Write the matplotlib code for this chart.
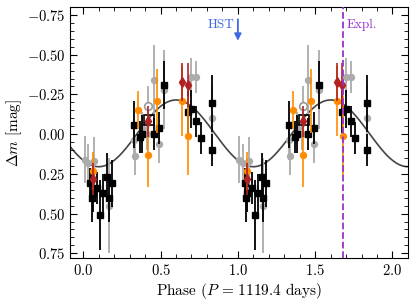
import numpy as np
import matplotlib
matplotlib.use("Agg")
import matplotlib.pyplot as plt
from matplotlib.ticker import MultipleLocator

plt.rcParams["font.family"] = "serif"
plt.rcParams["font.serif"] = ["cmr10"]
plt.rcParams["mathtext.fontset"] = "cm"
plt.rcParams["axes.formatter.use_mathtext"] = True
plt.rcParams["font.size"] = 10.5

period_days = 1119.4

# black squares: phase, delta m, error
sq_phase = [0.045, 0.06, 0.055, 0.09, 0.11, 0.13, 0.155, 0.165, 0.185,
            0.33, 0.37, 0.38, 0.455, 0.49, 0.525, 0.675, 0.70, 0.73, 0.76, 0.835, 0.835]
sq_dm = [0.31, 0.37, 0.40, 0.34, 0.51, 0.37, 0.27, 0.40, 0.31,
         -0.06, 0.02, 0.00, 0.00, -0.04, -0.31, -0.14, -0.16, -0.08, 0.025, -0.195, 0.10]
sq_err = [0.10, 0.12, 0.15, 0.10, 0.22, 0.12, 0.15, 0.15, 0.15,
          0.15, 0.10, 0.12, 0.10, 0.10, 0.15, 0.13, 0.12, 0.10, 0.10, 0.18, 0.10]

# grey circles
gr_phase = [0.01, 0.03, 0.07, 0.06, 0.165, 0.33, 0.335, 0.38, 0.415, 0.455, 0.49, 0.525, 0.70, 0.73, 0.835]
gr_dm = [0.16, 0.18, 0.17, 0.34, 0.45, 0.04, 0.14, -0.04, 0.0, -0.34, 0.06, -0.28, -0.36, -0.36, -0.10]
gr_err = [0.15, 0.12, 0.15, 0.15, 0.30, 0.12, 0.12, 0.10, 0.10, 0.22, 0.12, 0.25, 0.12, 0.10, 0.20]

# orange circles
or_phase = [0.06, 0.355, 0.42, 0.475, 0.64, 0.68]
or_dm = [0.23, -0.15, 0.13, -0.21, -0.21, 0.01]
or_err = [0.12, 0.12, 0.20, 0.20, 0.22, 0.25]

# red diamonds
rd_phase = [0.06, 0.42, 0.64, 0.675]
rd_dm = [0.28, -0.08, -0.33, -0.31]
rd_err = [0.10, 0.10, 0.12, 0.14]

# open symbols
open_circ_phase, open_circ_dm, open_circ_err = [0.42], [-0.18], [0.12]
open_sq_phase, open_sq_dm = [0.425], [-0.09]

# sinusoid model
fit_mean = -0.005
fit_amp = 0.21
fit_peak_phase = 0.60

hst_phase = 1.0
expl_phase = 1.683


def twice(vals, shift=False):
    vals = np.asarray(vals, dtype=float)
    return np.concatenate([vals, vals + 1.0]) if shift else np.concatenate([vals, vals])


fig = plt.figure(figsize=(4.15, 3.04), dpi=100)
ax = fig.add_axes([0.169, 0.151, 0.814, 0.826])

grey = "#ababab"
ax.errorbar(twice(gr_phase, True), twice(gr_dm), yerr=twice(gr_err), fmt="o", ms=4.3,
            color=grey, ecolor=grey, elinewidth=1.3, capsize=0, zorder=2)
ax.errorbar(twice(open_circ_phase, True), twice(open_circ_dm), yerr=twice(open_circ_err), fmt="o",
            ms=5.5, mfc="white", mec="#999999", mew=1.2, ecolor=grey, elinewidth=1.3, capsize=0, zorder=2)
ax.errorbar(twice(sq_phase, True), twice(sq_dm), yerr=twice(sq_err), fmt="s", ms=4.3,
            color="black", elinewidth=1.3, capsize=0, zorder=3)
ax.errorbar(twice(or_phase, True), twice(or_dm), yerr=twice(or_err), fmt="o", ms=4.3,
            color="darkorange", elinewidth=1.2, capsize=0, zorder=4)
ax.plot(twice(open_sq_phase, True), twice(open_sq_dm), "s", ms=7.5, mfc="none", mec="black",
        mew=1.2, zorder=4)
ax.errorbar(twice(rd_phase, True), twice(rd_dm), yerr=twice(rd_err), fmt="d", ms=5,
            color="firebrick", elinewidth=1.2, capsize=0, zorder=5)

xx = np.linspace(-0.1, 2.15, 500)
ax.plot(xx, fit_mean - fit_amp * np.cos(2 * np.pi * (xx - fit_peak_phase)),
        color="#444444", lw=1.2, zorder=1)

ax.axvline(expl_phase, color="darkorchid", ls="--", lw=1.3, zorder=6)
ax.text(expl_phase + 0.02, -0.69, "Expl.", color="darkorchid", fontsize=9.5, ha="left", va="center")

ax.annotate("", xy=(hst_phase, -0.57), xytext=(hst_phase, -0.74),
            arrowprops=dict(arrowstyle="-|>", color="royalblue", lw=1.3, mutation_scale=10))
ax.text(hst_phase - 0.02, -0.69, "HST", color="royalblue", fontsize=9.5, ha="right", va="center")

ax.set_xlim(-0.085, 2.1)
ax.set_ylim(0.78, -0.80)
ax.xaxis.set_major_locator(MultipleLocator(0.5))
ax.xaxis.set_minor_locator(MultipleLocator(0.1))
ax.yaxis.set_major_locator(MultipleLocator(0.25))
ax.yaxis.set_minor_locator(MultipleLocator(0.05))
ax.tick_params(which="both", direction="in", top=True, right=True)
ax.tick_params(which="major", length=5)
ax.tick_params(which="minor", length=3)

ax.set_xlabel(r"Phase ($P\,=\,%.1f$ days)" % period_days, fontsize=11, labelpad=2)
ax.set_ylabel(r"$\Delta m$ [mag]", fontsize=11, labelpad=2)

fig.savefig("out.png", dpi=100)
